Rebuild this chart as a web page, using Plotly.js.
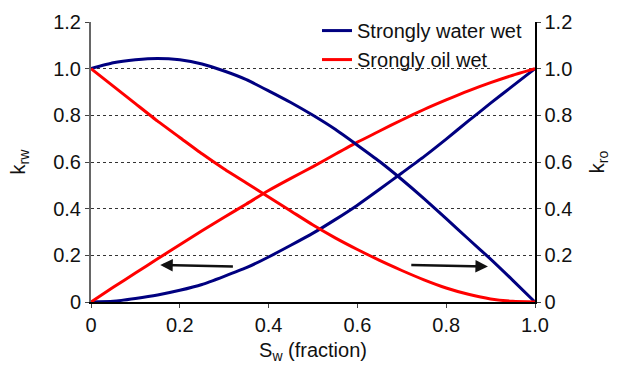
<!DOCTYPE html>
<html>
<head>
<meta charset="utf-8">
<script src="https://cdn.plot.ly/plotly-3.0.1.min.js"></script>
<style>html,body{margin:0;padding:0;background:#fff;}#chart{width:617px;height:367px;}</style>
</head>
<body>
<div id="chart"></div>
<script>
// Water saturation (fraction)
const sw = [0, 0.05, 0.1, 0.15, 0.2, 0.25, 0.3, 0.35, 0.4, 0.45, 0.5, 0.55, 0.6, 0.65, 0.7, 0.75, 0.8, 0.85, 0.9, 0.95, 1.0];
// Strongly water wet
const krwWater = [0, 0.003, 0.015, 0.03, 0.05, 0.075, 0.11, 0.147, 0.193, 0.243, 0.295, 0.353, 0.415, 0.483, 0.553, 0.623, 0.698, 0.776, 0.852, 0.926, 1.0];
const kroWater = [1.0, 1.025, 1.038, 1.044, 1.038, 1.02, 0.99, 0.953, 0.905, 0.855, 0.8, 0.74, 0.672, 0.602, 0.525, 0.443, 0.357, 0.27, 0.184, 0.093, 0];
// Strongly oil wet
const krwOil = [0, 0.063, 0.124, 0.185, 0.245, 0.305, 0.363, 0.42, 0.478, 0.53, 0.58, 0.633, 0.685, 0.733, 0.78, 0.825, 0.866, 0.905, 0.94, 0.972, 1.0];
const kroOil = [1.0, 0.925, 0.85, 0.775, 0.705, 0.635, 0.57, 0.51, 0.45, 0.39, 0.33, 0.275, 0.225, 0.178, 0.135, 0.095, 0.06, 0.033, 0.013, 0.003, 0];

const xTicks = [0, 0.2, 0.4, 0.6, 0.8, 1.0];
const xTickText = ['0', '0.2', '0.4', '0.6', '0.8', '1.0'];
const yTicks = [0, 0.2, 0.4, 0.6, 0.8, 1.0, 1.2];
const yTickText = ['0', '0.2', '0.4', '0.6', '0.8', '1.0', '1.2'];

const seriesNames = ['Strongly water wet', 'Srongly oil wet'];
// Arrow annotations: [tailX, tailY, headX, headY]
const arrowLeft = [0.323, 0.152, 0.156, 0.159];
const arrowRight = [0.718, 0.159, 0.894, 0.152];

const blue = '#000080';
const red = '#ff0000';
const font = 'Liberation Sans, Arial, Helvetica, sans-serif';

const traces = [
  {x: sw, y: kroWater, type: 'scatter', mode: 'lines', name: seriesNames[0], legendgroup: 'w',
   line: {color: blue, width: 3, shape: 'spline', smoothing: 0.5}, yaxis: 'y2'},
  {x: sw, y: krwWater, type: 'scatter', mode: 'lines', name: seriesNames[0], legendgroup: 'w', showlegend: false,
   line: {color: blue, width: 3, shape: 'spline', smoothing: 0.5}},
  {x: sw, y: krwOil, type: 'scatter', mode: 'lines', name: seriesNames[1], legendgroup: 'o',
   line: {color: red, width: 3, shape: 'spline', smoothing: 0.5}},
  {x: sw, y: kroOil, type: 'scatter', mode: 'lines', name: seriesNames[1], legendgroup: 'o', showlegend: false,
   line: {color: red, width: 3, shape: 'spline', smoothing: 0.5}, yaxis: 'y2'}
];

function arrow(a) {
  return {x: a[2], y: a[3], ax: a[0], ay: a[1], xref: 'x', yref: 'y', axref: 'x', ayref: 'y',
    text: '', showarrow: true, arrowhead: 2, arrowsize: 1, arrowwidth: 2.5, arrowcolor: '#111'};
}

const layout = {
  width: 617, height: 367,
  margin: {l: 91, r: 82, t: 22, b: 65, autoexpand: false},
  paper_bgcolor: '#fff', plot_bgcolor: '#fff',
  font: {family: font, size: 20, color: '#111'},
  showlegend: true,
  legend: {x: 0.982, xanchor: 'right', y: 1.039, yanchor: 'top', bgcolor: 'rgba(0,0,0,0)',
    font: {family: font, size: 20, color: '#111'}, tracegroupgap: 0, itemwidth: 30},
  xaxis: {range: [0, 1], tickvals: xTicks, ticktext: xTickText, showgrid: false, zeroline: false,
    showline: true, linecolor: '#000', linewidth: 1.5, ticks: 'outside', ticklen: 4, tickcolor: '#444',
    tickfont: {size: 20}, automargin: false,
    title: {text: 'S<sub>w</sub> (fraction)', font: {size: 20}, standoff: 8}},
  yaxis: {range: [0, 1.2], tickvals: yTicks, ticktext: yTickText, showgrid: true, gridcolor: '#333',
    griddash: 'dot', gridwidth: 1, zeroline: false, tickfont: {size: 20}, automargin: false,
    showline: true, linecolor: '#666', linewidth: 2, ticks: 'outside', ticklen: 4, tickcolor: '#444',
    title: {text: 'k<sub>rw</sub>', font: {size: 20}, standoff: 22}},
  yaxis2: {range: [0, 1.2], tickvals: yTicks, ticktext: yTickText, overlaying: 'y', side: 'right',
    showgrid: false, zeroline: false, showline: true, linecolor: '#000', linewidth: 1.5, automargin: false,
    ticks: 'outside', ticklen: 4, tickcolor: '#444', tickfont: {size: 20},
    title: {text: 'k<sub>ro</sub>', font: {size: 20}, standoff: 18}},
  annotations: [arrow(arrowLeft), arrow(arrowRight)]
};

Plotly.newPlot('chart', traces, layout, {displayModeBar: false, staticPlot: true});
</script>
</body>
</html>
